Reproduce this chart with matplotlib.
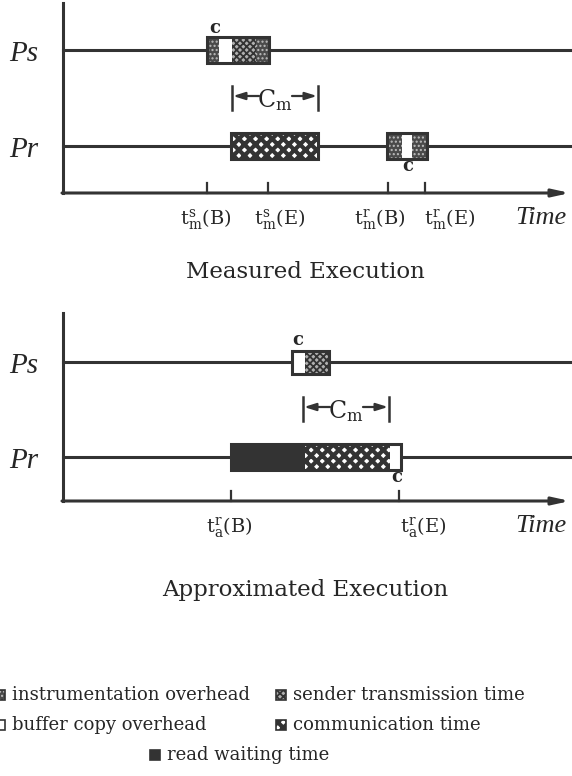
import matplotlib
matplotlib.use("Agg")
import matplotlib.pyplot as plt
from matplotlib.patches import Rectangle

plt.rcParams['font.family'] = ['DejaVu Serif']
plt.rcParams['mathtext.fontset'] = 'custom'
plt.rcParams['mathtext.rm'] = 'DejaVu Serif'
plt.rcParams['mathtext.it'] = 'DejaVu Serif:italic'

# segments on each process line: (kind, start time, end time)
measured_ps = [("instr", 207, 219), ("buffer", 219, 232), ("sender", 232, 256), ("instr", 256, 269)]
measured_pr = [("comm", 231, 318), ("instr", 387, 402), ("buffer", 402, 412), ("instr", 412, 427)]
approx_ps = [("buffer", 292, 305), ("sender", 305, 329)]
approx_pr = [("wait", 231, 305), ("comm", 305, 390), ("buffer", 390, 401)]

measured_ticks = [207, 268, 388, 425]
measured_label_x = [206, 280, 380, 450]
measured_labels = [r'$\mathrm{t}_\mathrm{m}^\mathrm{s}$(B)', r'$\mathrm{t}_\mathrm{m}^\mathrm{s}$(E)',
                   r'$\mathrm{t}_\mathrm{m}^\mathrm{r}$(B)', r'$\mathrm{t}_\mathrm{m}^\mathrm{r}$(E)']
approx_ticks = [231, 399]
approx_label_x = [229, 423]
approx_labels = [r'$\mathrm{t}_\mathrm{a}^\mathrm{r}$(B)', r'$\mathrm{t}_\mathrm{a}^\mathrm{r}$(E)']

legend_kinds = ["instr", "sender", "buffer", "comm", "wait"]
legend_names = ["instrumentation overhead", "sender transmission time", "buffer copy overhead",
                "communication time", "read waiting time"]

styles = {
    "instr":  dict(facecolor="#4a4a4a", hatch="....", hcolor="#bdbdbd", hlw=1.0),
    "buffer": dict(facecolor="white", hatch=None, hcolor="#333333", hlw=1.0),
    "sender": dict(facecolor="#b0b0b0", hatch="xxxxx", hcolor="#333333", hlw=1.3),
    "comm":   dict(facecolor="white", hatch="xxx", hcolor="#333333", hlw=3.0),
    "wait":   dict(facecolor="#333333", hatch=None, hcolor="#333333", hlw=1.0),
}
ink = "#333333"
txt = "#262626"

fig = plt.figure(figsize=(5.72, 7.76), dpi=100)
ax = fig.add_axes([0, 0, 1, 1])
ax.set_xlim(0, 572)
ax.set_ylim(776, 0)
ax.axis('off')


def styled_rect(x0, y0, w, h, kind):
    st = styles[kind]
    r = Rectangle((x0, y0), w, h, facecolor=st["facecolor"], hatch=st["hatch"],
                  edgecolor=st["hcolor"], lw=0, zorder=3)
    try:
        r.set_hatch_linewidth(st["hlw"])
    except AttributeError:
        pass
    ax.add_patch(r)


def box(segs, yc, h=26):
    for kind, a, b in segs:
        styled_rect(a, yc - h / 2, b - a, h, kind)
    groups = []
    for kind, a, b in segs:
        if groups and abs(groups[-1][1] - a) < 1:
            groups[-1][1] = b
        else:
            groups.append([a, b])
    for a, b in groups:
        ax.add_patch(Rectangle((a, yc - h / 2), b - a, h, facecolor="none",
                               edgecolor=ink, lw=2.2, zorder=4))


def panel(y_ps, y_pr, y_axis, y_top, ps, pr, ps_h, ticks, label_x, labels, title, y_title):
    ax.plot([63, 63], [y_top, y_axis], color=ink, lw=2.2, zorder=2)
    ax.annotate("", xy=(570, y_axis), xytext=(62, y_axis),
                arrowprops=dict(arrowstyle="-|>,head_length=1.0,head_width=0.22",
                                color=ink, lw=2.2, shrinkA=0, shrinkB=0))
    ax.plot([63, 572], [y_ps, y_ps], color=ink, lw=2.2, zorder=2)
    ax.plot([63, 572], [y_pr, y_pr], color=ink, lw=2.2, zorder=2)
    ax.text(9, y_ps + 4, "Ps", fontsize=21, style="italic", family="Liberation Serif",
            ha="left", va="center", color=txt)
    ax.text(9, y_pr + 4, "Pr", fontsize=21, style="italic", family="Liberation Serif",
            ha="left", va="center", color=txt)
    box(ps, y_ps, ps_h)
    box(pr, y_pr)
    for t in ticks:
        ax.plot([t, t], [y_axis - 10, y_axis], color=ink, lw=1.6)
    for lx, lab in zip(label_x, labels):
        ax.text(lx, y_axis + 26, lab, fontsize=14, ha="center", va="center", color=txt)
    ax.text(541, y_axis + 25, "Time", fontsize=19, style="italic", family="Liberation Serif",
            ha="center", va="center", color=txt)
    ax.text(305, y_title, title, fontsize=16.5, ha="center", va="center", color=txt)


def bracket(x0, x1, y):
    ax.plot([x0, x0], [y - 12, y + 12], color=ink, lw=1.8)
    ax.plot([x1, x1], [y - 12, y + 12], color=ink, lw=1.8)
    mid = (x0 + x1) / 2
    ax.annotate("", xy=(x0 + 1, y - 2), xytext=(mid - 16, y - 2),
                arrowprops=dict(arrowstyle="-|>,head_length=0.7,head_width=0.22",
                                color=ink, lw=1.6, shrinkA=0, shrinkB=0))
    ax.annotate("", xy=(x1 - 1, y - 2), xytext=(mid + 17, y - 2),
                arrowprops=dict(arrowstyle="-|>,head_length=0.7,head_width=0.22",
                                color=ink, lw=1.6, shrinkA=0, shrinkB=0))
    ax.text(mid, y + 2, r'$\mathrm{C}_\mathrm{m}$', fontsize=17, ha="center", va="center", color=txt)


panel(50, 146, 193, 3, measured_ps, measured_pr, 26, measured_ticks, measured_label_x,
      measured_labels, "Measured Execution", 272)
bracket(232, 318, 98)
ax.text(215, 28, "c", fontsize=13, weight="bold", ha="center", va="center", color=txt)
ax.text(408, 166, "c", fontsize=13, weight="bold", ha="center", va="center", color=txt)

panel(362, 457, 501, 313, approx_ps, approx_pr, 23, approx_ticks, approx_label_x,
      approx_labels, "Approximated Execution", 590)
bracket(303, 389, 409)
ax.text(298, 340, "c", fontsize=13, weight="bold", ha="center", va="center", color=txt)
ax.text(397, 477, "c", fontsize=13, weight="bold", ha="center", va="center", color=txt)

# legend
leg_pos = [(-5, 695), (276, 695), (-5, 725), (276, 725), (150, 755)]
for kind, name, (lx, ly) in zip(legend_kinds, legend_names, leg_pos):
    styled_rect(lx, ly - 5, 10, 10, kind)
    ax.add_patch(Rectangle((lx, ly - 5), 10, 10, facecolor="none", edgecolor=ink, lw=1.2, zorder=4))
    ax.text(lx + 17, ly, name, fontsize=13, ha="left", va="center", color=txt)

fig.savefig("out.png", dpi=100)
